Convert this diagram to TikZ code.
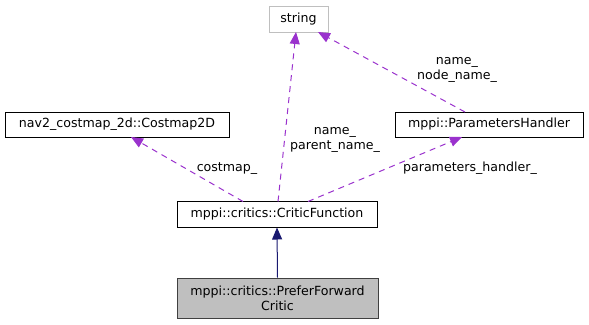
\documentclass[tikz,border=0pt]{standalone}
\usepackage{fontspec}
\setmainfont{DejaVu Sans}
\usetikzlibrary{arrows.meta}
\definecolor{edgepurple}{HTML}{9A32CD}
\definecolor{inhblue}{HTML}{191970}
\definecolor{focusfill}{HTML}{BFBFBF}
\definecolor{lightborder}{HTML}{BFBFBF}
\definecolor{focusborder}{HTML}{404040}
\begin{document}
\begin{tikzpicture}[x=1pt,y=-1pt,
  every node/.style={font=\fontsize{12.6}{15}\selectfont, inner sep=0pt, align=center},
  cls/.style={draw=black, line width=1pt, fill=white},
  usage/.style={draw=edgepurple, line width=1pt, dash pattern=on 6pt off 5pt, -{Triangle[length=12pt,width=10pt,fill=edgepurple]}},
  inherit/.style={draw=inhblue, line width=1pt, -{Triangle[length=12pt,width=10pt,fill=inhblue]}},
  lbl/.style={fill=none}]
\useasboundingbox (0,0) rectangle (589,324);
% nodes
\node[cls, draw=lightborder, minimum width=59pt, minimum height=26pt] (str) at (298.5,19) {string};
\node[cls, minimum width=224pt, minimum height=25pt] (cm) at (117,124.5) {nav2\_costmap\_2d::Costmap2D};
\node[cls, minimum width=188pt, minimum height=25pt] (ph) at (489,124.5) {mppi::ParametersHandler};
\node[cls, minimum width=200pt, minimum height=26pt] (cf) at (277,214) {mppi::critics::CriticFunction};
\node[cls, draw=focusborder, fill=focusfill, minimum width=201pt, minimum height=40pt] (pf) at (277.5,298) {mppi::critics::PreferForward\\Critic};
% connector endpoints
\coordinate (cfA) at (243,201.5);
\coordinate (cfB) at (278,201.5);
\coordinate (cfC) at (308,201.5);
\coordinate (cmS) at (131,137);
\coordinate (strS) at (296,32);
\coordinate (strS2) at (318,32);
\coordinate (phS) at (462,137);
\coordinate (phN) at (465,112);
% edges
\draw[usage] (cfA) -- (cmS);
\draw[usage] (cfB) -- (strS);
\draw[usage] (cfC) -- (phS);
\draw[usage] (phN) -- (strS2);
\draw[inherit] (pf.north) -- (cf.south);
% labels
\node[lbl] (l1) at (335,140) {name\_\\parent\_name\_};
\node[lbl] (l2) at (457,70) {name\_\\node\_name\_};
\node[lbl] (l3) at (227,169) {costmap\_};
\node[lbl] (l4) at (470,168) {parameters\_handler\_};
\end{tikzpicture}
\end{document}
